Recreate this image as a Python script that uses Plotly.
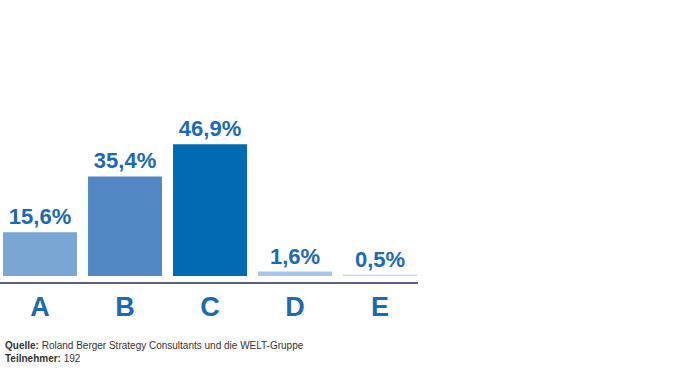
import plotly.graph_objects as go

categories = ["A", "B", "C", "D", "E"]
values = [15.6, 35.4, 46.9, 1.6, 0.5]
value_labels = ["15,6%", "35,4%", "46,9%", "1,6%", "0,5%"]
bar_colors = ["#79A6D3", "#5287C4", "#006AB3", "#A6C7E8", "#C9DDF1"]

FONT = "Liberation Sans Narrow, Arial Narrow, Liberation Sans, Arial, sans-serif"
BLUE = "#1B6AB2"

fig = go.Figure(go.Bar(
    x=categories,
    y=values,
    marker=dict(color=bar_colors, line=dict(width=0)),
    width=0.87,
    text=value_labels,
    textposition="outside",
    textangle=0,
    cliponaxis=False,
    textfont=dict(family=FONT, size=22, color=BLUE, weight="bold"),
    hoverinfo="skip",
))

fig.update_layout(
    width=700, height=370,
    margin=dict(l=0, r=282, t=100, b=88, autoexpand=False),
    paper_bgcolor="white", plot_bgcolor="white",
    showlegend=False,
    xaxis=dict(
        range=[-0.4706, 4.447],
        showline=True, linecolor="#5B5F82", linewidth=2,
        ticks="", showgrid=False, zeroline=False,
        automargin=False,
        tickfont=dict(family=FONT, size=27, color=BLUE, weight="bold"),
    ),
    yaxis=dict(
        range=[-2.13, 62.6],
        visible=False, showgrid=False, zeroline=False, automargin=False,
    ),
    annotations=[
        dict(
            x=3 / 418, y=(282 - 338) / 182, xref="paper", yref="paper", showarrow=False,
            text="<b>Quelle:</b> Roland Berger Strategy Consultants und die WELT-Gruppe<br><b>Teilnehmer:</b> 192",
            font=dict(family=FONT, size=10, color="#333333"),
            align="left", xanchor="left", yanchor="top",
        )
    ],
)

fig.write_html(
    "out.html",
    config={"displayModeBar": False, "staticPlot": True},
    post_script="document.body.style.margin='0';",
)
